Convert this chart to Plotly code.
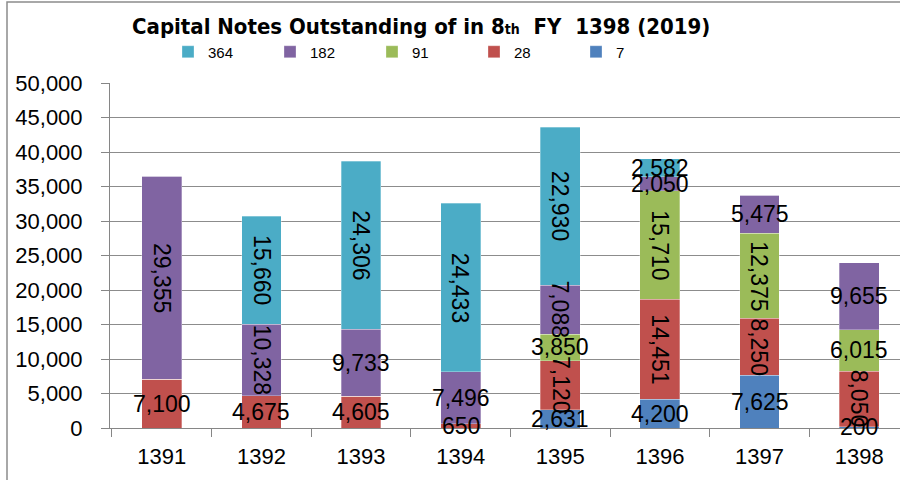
import plotly.graph_objects as go

years = ["1391", "1392", "1393", "1394", "1395", "1396", "1397", "1398"]
series_names = ["7", "28", "91", "182", "364"]
v7 = [0, 0, 0, 0, 2631, 4200, 7625, 200]
v28 = [7100, 4675, 4605, 650, 7120, 14451, 8250, 8050]
v91 = [0, 0, 0, 0, 3850, 15710, 12375, 6015]
v182 = [29355, 10328, 9733, 7496, 7088, 2050, 5475, 9655]
v364 = [0, 15660, 24306, 24433, 22930, 2582, 0, 0]
values = [v7, v28, v91, v182, v364]

# labels shown vertically (reading top to bottom) in the reference
rotated = {
    "7": [],
    "28": ["1395", "1396", "1397", "1398"],
    "91": ["1396", "1397"],
    "182": ["1391", "1392", "1395"],
    "364": ["1392", "1393", "1394", "1395"],
}
colors = {"7": "#4F81BD", "28": "#C0504D", "91": "#9BBB59", "182": "#8064A2", "364": "#4BACC6"}

L, R, T, B, W, H = 110, 0, 83, 52, 900, 480
pw, ph = W - L - R, H - T - B

fig = go.Figure()
base = [0] * len(years)
annotations = []
for name, vals in zip(series_names, values):
    fig.add_trace(go.Bar(
        x=years, y=vals, name=name, marker_color=colors[name],
        marker_line=dict(color="rgba(255,255,255,0.6)", width=0.5),
        width=0.4,
    ))
    for i, (yr, v) in enumerate(zip(years, vals)):
        if v > 0:
            annotations.append(dict(
                x=i, y=base[i] + v / 2, xref="x", yref="y",
                text=f"{v:,}", showarrow=False,
                textangle=90 if yr in rotated[name] else 0,
                font=dict(family="Liberation Sans, Arial", size=23, color="black"),
            ))
        base[i] += v

def px(x):
    return (x - L) / pw

def py(y):
    return (H - B - y) / ph

annotations.append(dict(
    x=px(421), y=py(27), xref="paper", yref="paper", showarrow=False,
    xanchor="center", yanchor="middle",
    text="<span style='font-stretch:condensed'><b>Capital Notes Outstanding of in 8<span style='font-size:14px'>th</span>  FY  1398 (2019)</b></span>",
    font=dict(family="DejaVu Sans Condensed, Liberation Sans Narrow, Arial Narrow, DejaVu Sans", size=22, color="black"),
))

fig.update_layout(
    width=W, height=H,
    margin=dict(l=L, r=R, t=T, b=B),
    paper_bgcolor="white", plot_bgcolor="white",
    barmode="stack",
    showlegend=True,
    legend=dict(
        orientation="h", traceorder="reversed",
        x=px(168), y=py(52), xanchor="left", yanchor="middle",
        entrywidth=57, entrywidthmode="pixels",
        itemwidth=30,
        font=dict(family="Liberation Sans, Arial", size=15, color="black"),
        bgcolor="rgba(0,0,0,0)",
    ),
    annotations=annotations,
    xaxis=dict(
        type="category", range=[-0.52, 7.41],
        tickson="boundaries", ticks="outside", ticklen=8, tickcolor="#868686",
        showline=True, linecolor="#868686", linewidth=1,
        showgrid=False,
        ticklabelstandoff=9,
        tickfont=dict(family="Liberation Sans, Arial", size=22, color="black"),
    ),
    yaxis=dict(
        range=[0, 50000], dtick=5000, tickformat=",d",
        ticks="outside", ticklen=8, tickcolor="#868686",
        showline=True, linecolor="#868686", linewidth=1,
        showgrid=True, gridcolor="#8C8C8C", gridwidth=1,
        zeroline=False,
        ticklabelstandoff=14,
        tickfont=dict(family="Liberation Sans, Arial", size=22, color="black"),
    ),
    shapes=[dict(
        type="rect", xref="paper", yref="paper",
        x0=px(7), x1=px(960), y0=py(520), y1=py(2),
        line=dict(color="#8C8C8C", width=1.5), fillcolor="rgba(0,0,0,0)", layer="below",
    )],
)

fig.write_html(
    "out.html",
    config={"displayModeBar": False},
    post_script="document.body.style.margin='0px';document.body.style.overflow='hidden';",
)
